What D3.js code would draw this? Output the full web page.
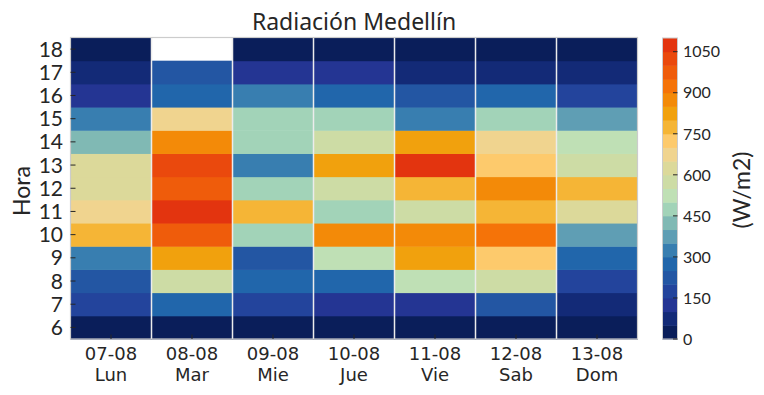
<!DOCTYPE html>
<html>
<head>
<meta charset="utf-8">
<script src="https://cdn.jsdelivr.net/npm/d3@7"></script>
<style>
  html, body { margin: 0; padding: 0; background: #fff; }
  svg { display: block; }
  .geo { font-family: Lato, "Noto Sans", sans-serif; fill: #262626; }
  .dv { font-family: "DejaVu Sans", sans-serif; fill: #262626; }
</style>
</head>
<body>
<svg id="chart" width="764" height="395"></svg>
<script>
// === Data ===
const days = ["07-08", "08-08", "09-08", "10-08", "11-08", "12-08", "13-08"];
const weekdays = ["Lun", "Mar", "Mie", "Jue", "Vie", "Sab", "Dom"];
const hours = [6, 7, 8, 9, 10, 11, 12, 13, 14, 15, 16, 17, 18];

// radiation (W/m2) per day, hours 6..18
const lun = [20, 180, 230, 320, 780, 680, 620, 630, 420, 330, 120, 70, 15];
const mar = [20, 270, 580, 820, 980, 1070, 970, 1030, 870, 670, 280, 220, null];
const mie = [15, 170, 260, 220, 470, 770, 480, 310, 470, 470, 320, 130, 10];
const jue = [15, 120, 270, 520, 880, 470, 580, 820, 570, 480, 270, 120, 10];
const vie = [15, 130, 520, 830, 870, 570, 780, 1060, 830, 330, 230, 70, 10];
const sab = [20, 230, 570, 720, 920, 770, 880, 720, 670, 470, 270, 80, 10];
const dom = [15, 70, 180, 270, 380, 620, 770, 570, 530, 370, 170, 80, 10];
const series = [lun, mar, mie, jue, vie, sab, dom];

const levels = d3.range(0, 1101, 50);
const palette = ["#0a1e5a", "#132a77", "#243593", "#23449c", "#2356a3", "#2166ab",
  "#387eb0", "#5f9eb4", "#80b9b4", "#a2d3b8", "#bfe0b5", "#cddca5", "#dcd99a",
  "#f0d48f", "#fdca6c", "#f5b536", "#f1a10d", "#f38a08", "#f57308", "#ef5c0b",
  "#ea490d", "#e3340f"];
const cbTicks = d3.range(0, 1051, 150);

const svg = d3.select("#chart");
const pL = 70.5, pR = 637.5, pT = 37.5, pB = 339;

const x = d3.scaleBand().domain(days).range([pL, pR]);
const y = d3.scaleBand().domain(hours).range([pB, pT]);
const color = d3.scaleThreshold().domain(levels.slice(1, -1)).range(palette);

const cells = [];
days.forEach((d, i) => hours.forEach((h, j) => cells.push({ day: d, hour: h, v: series[i][j] })));

svg.append("g").selectAll("rect")
  .data(cells.filter(c => c.v != null)).enter().append("rect")
  .attr("x", c => x(c.day)).attr("y", c => y(c.hour))
  .attr("width", x.bandwidth() + 0.5).attr("height", y.bandwidth() + 0.5)
  .attr("fill", c => color(c.v));

// column separators
svg.append("g").selectAll("line")
  .data(days.slice(1)).enter().append("line")
  .attr("x1", d => x(d)).attr("x2", d => x(d))
  .attr("y1", pT).attr("y2", pB)
  .attr("stroke", "#ececec").attr("stroke-width", 1.5);

// frame
svg.append("rect").attr("x", pL).attr("y", pT)
  .attr("width", pR - pL).attr("height", pB - pT)
  .attr("fill", "none").attr("stroke", "#cccccc").attr("stroke-width", 1.2);

// y axis (ticks inside)
const ya = svg.append("g");
ya.selectAll("line").data(hours).enter().append("line")
  .attr("x1", pL).attr("x2", pL + 5)
  .attr("y1", h => y(h) + y.bandwidth() / 2).attr("y2", h => y(h) + y.bandwidth() / 2)
  .attr("stroke", "#262626").attr("stroke-width", 1);
ya.selectAll("text").data(hours).enter().append("text")
  .attr("class", "geo")
  .attr("x", 63).attr("y", h => y(h) + y.bandwidth() / 2)
  .attr("dy", "0.36em").attr("text-anchor", "end")
  .style("font-size", "21px").text(h => h);

// x axis (ticks inside)
const xa = svg.append("g");
xa.selectAll("line").data(days).enter().append("line")
  .attr("x1", d => x(d) + x.bandwidth() / 2).attr("x2", d => x(d) + x.bandwidth() / 2)
  .attr("y1", pB).attr("y2", pB - 4.5)
  .attr("stroke", "#262626").attr("stroke-width", 1);
const xl = xa.selectAll("text").data(days).enter().append("text")
  .attr("class", "dv").attr("text-anchor", "middle")
  .style("font-size", "18px");
xl.append("tspan").attr("x", d => x(d) + x.bandwidth() / 2).attr("y", 360).text(d => d);
xl.append("tspan").attr("x", d => x(d) + x.bandwidth() / 2).attr("y", 381)
  .text((d, i) => weekdays[i]);

// title and axis labels
svg.append("text").attr("class", "geo")
  .attr("x", (pL + pR) / 2).attr("y", 30).attr("text-anchor", "middle")
  .style("font-family", "'Noto Sans', sans-serif")
  .style("font-size", "23px").text("Radiación Medellín");
svg.append("text").attr("class", "geo")
  .attr("transform", `translate(30,191) rotate(-90)`).attr("text-anchor", "middle")
  .style("font-size", "23px").text("Hora");

// colorbar
const cbX = 662.5, cbW = 15;
const cy = d3.scaleLinear().domain([0, 1100]).range([339, 38]);
const cb = svg.append("g");
cb.selectAll("rect").data(palette).enter().append("rect")
  .attr("x", cbX).attr("width", cbW)
  .attr("y", (c, i) => cy(levels[i + 1]))
  .attr("height", (c, i) => cy(levels[i]) - cy(levels[i + 1]) + 0.5)
  .attr("fill", c => c);
cb.append("rect").attr("x", cbX).attr("y", cy(1100)).attr("width", cbW)
  .attr("height", cy(0) - cy(1100))
  .attr("fill", "none").attr("stroke", "#cccccc").attr("stroke-width", 1);
cb.selectAll("line").data(cbTicks).enter().append("line")
  .attr("x1", cbX + cbW - 4.5).attr("x2", cbX + cbW)
  .attr("y1", v => cy(v)).attr("y2", v => cy(v))
  .attr("stroke", "#262626").attr("stroke-width", 1);
cb.selectAll("text").data(cbTicks).enter().append("text")
  .attr("class", "geo").attr("x", 683).attr("y", v => cy(v)).attr("dy", "0.36em")
  .style("font-size", "16px").text(v => v);
svg.append("text").attr("class", "geo")
  .attr("transform", `translate(750,190) rotate(-90)`).attr("text-anchor", "middle")
  .style("font-size", "23px").text("(W/m2)");
</script>
</body>
</html>
